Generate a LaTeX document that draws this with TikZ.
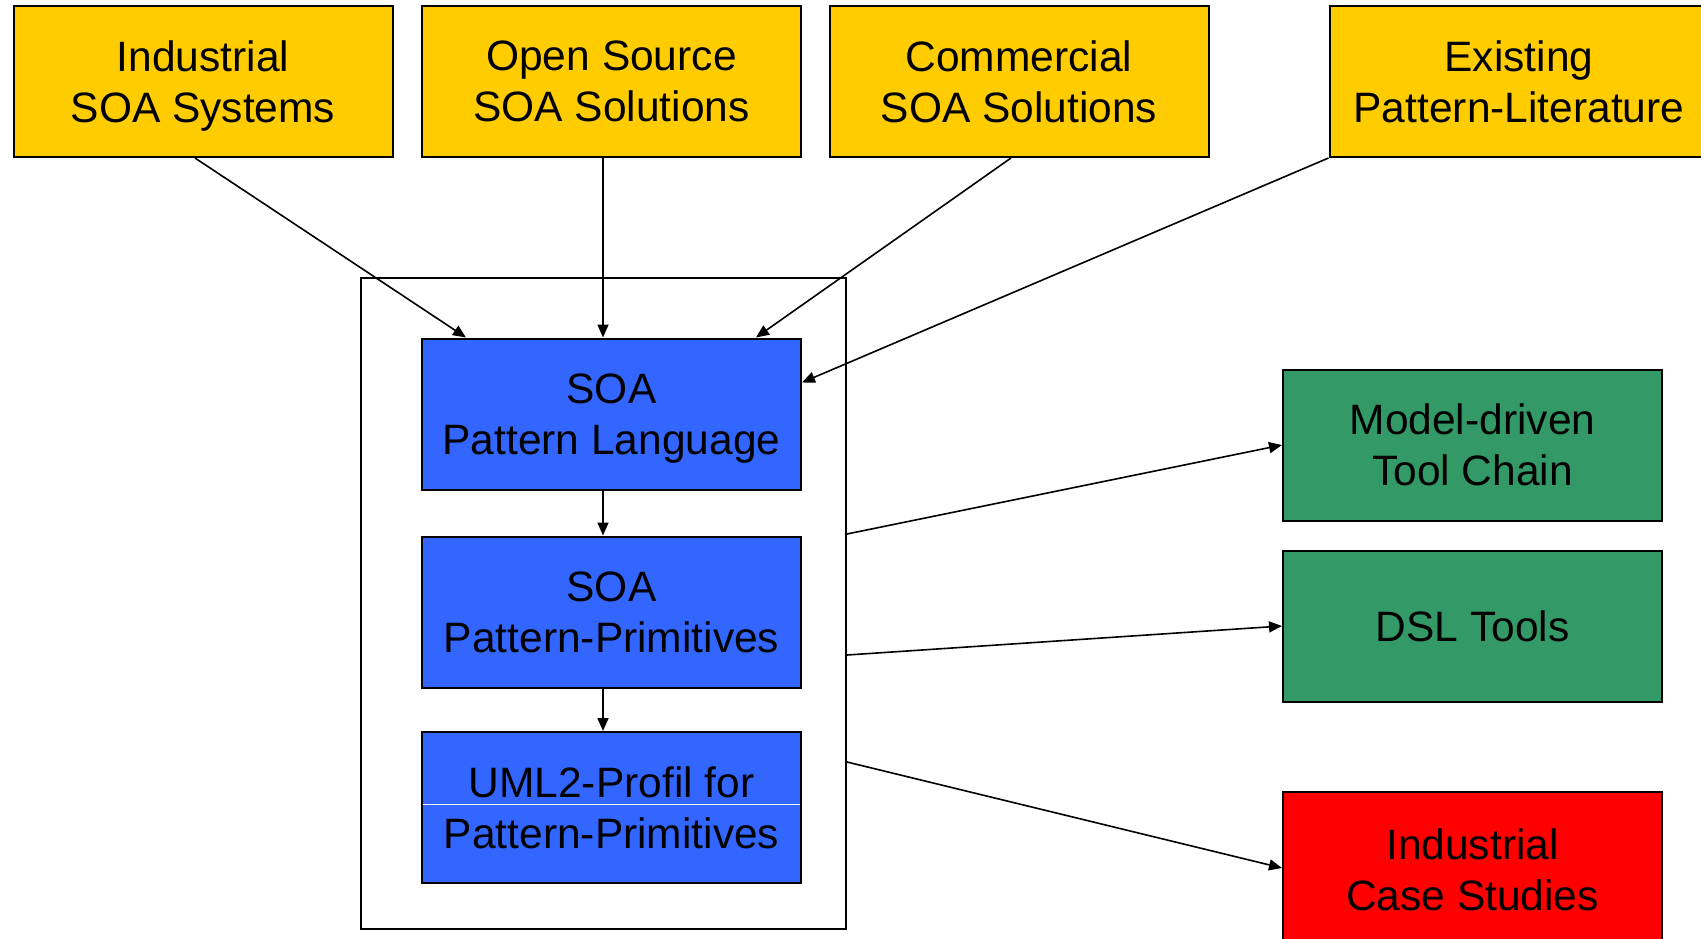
\documentclass[tikz,border=0pt]{standalone}
\usepackage{fontspec}
\setmainfont{Liberation Sans}
\usetikzlibrary{arrows.meta,calc}
\definecolor{srcyellow}{HTML}{FFCC00}
\definecolor{coreblue}{HTML}{3366FF}
\definecolor{toolgreen}{HTML}{339966}
\definecolor{casered}{HTML}{FF0000}
\tikzset{
  box/.style={draw=black, line width=2pt, minimum width=379pt, minimum height=151pt,
    align=center, inner sep=0pt, text depth=0pt, font=\fontsize{42.5}{51}\selectfont},
  source/.style={box, fill=srcyellow},
  core/.style={box, fill=coreblue},
  tool/.style={box, fill=toolgreen},
  casebox/.style={box, fill=casered, minimum height=156pt},
  link/.style={line width=1.6pt, -{Triangle[length=13pt,width=11pt]}},
}
\begin{document}
\begin{tikzpicture}[x=1pt,y=-1pt]
\clip (0,0) rectangle (1701,939);
\fill[white] (0,0) rectangle (1701,939);

% sources
\node[source] (ind) at (203,81.5) {Industrial\\SOA Systems};
\node[source] (oss) at (611.5,81.5) {Open Source\\SOA Solutions};
\node[source] (com) at (1019,81.5) {Commercial\\SOA Solutions};
\node[source] (lit) at (1519,81.5) {Existing\\Pattern-Literature};

% container with the three layers
\node[draw=black, line width=2pt, minimum width=485pt, minimum height=651pt, inner sep=0pt] (cont) at (603.5,603.5) {};
\node[core] (lang) at (611.5,414) {SOA\\Pattern Language};
\node[core] (prim) at (611.5,612) {SOA\\Pattern-Primitives};
\node[core] (uml) at (611.5,807.5) {UML2-Profil for\\Pattern-Primitives};
\draw[white, line width=1pt] ($(uml.west)+(2,-3.5)$) -- ($(uml.east)+(-2,-3.5)$);

% targets
\node[tool] (mdd) at (1472.5,445) {Model-driven\\Tool Chain};
\node[tool] (dsl) at (1472.5,626) {DSL Tools};
\node[casebox] (cases) at (1472.5,870) {Industrial\\Case Studies};

% connectors
\draw[link] ($(ind.south)+(-8,0)$) -- ($(lang.north)+(-145.5,0)$);
\draw[link] ($(oss.south)+(-8.5,0)$) -- ($(lang.north)+(-8.5,0)$);
\draw[link] ($(com.south)+(-8,0)$) -- ($(lang.north)+(144.5,0)$);
\draw[link] (lit.south west) -- ($(lang.north east)+(0,45)$);
\draw[link] ($(lang.south)+(-8.5,0)$) -- ($(prim.north)+(-8.5,0)$);
\draw[link] ($(prim.south)+(-8.5,0)$) -- ($(uml.north)+(-8.5,0)$);
\draw[link] ($(cont.north east)+(0,257)$) -- (mdd.west);
\draw[link] ($(cont.north east)+(0,378)$) -- (dsl.west);
\draw[link] ($(cont.north east)+(0,485)$) -- ($(cases.west)+(0,-2)$);
\end{tikzpicture}
\end{document}
